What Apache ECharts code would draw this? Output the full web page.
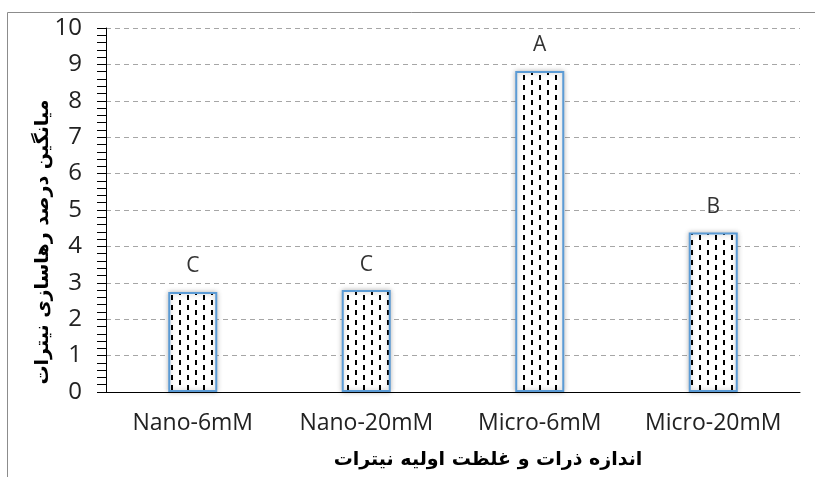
<!DOCTYPE html>
<html><head><meta charset="utf-8">
<script src="https://cdn.jsdelivr.net/npm/echarts@6/dist/echarts.min.js"></script>
<style>html,body{margin:0;padding:0;background:#fff}#c{width:815px;height:477px}</style>
</head><body><div id="c"></div>
<script>
const categories = ['Nano-6mM', 'Nano-20mM', 'Micro-6mM', 'Micro-20mM'];
const values = [2.75, 2.80, 8.82, 4.38];
const letters = ['C', 'C', 'A', 'B'];
const yTicks = [0, 1, 2, 3, 4, 5, 6, 7, 8, 9, 10];
const xTitle = 'اندازه ذرات و غلظت اولیه نیترات';
const yTitle = 'میانگین درصد رهاسازی نیترات';

function makePattern() {
  const c = document.createElement('canvas');
  c.width = 16; c.height = 10;
  const g = c.getContext('2d');
  g.fillStyle = '#fff'; g.fillRect(0, 0, 16, 10);
  g.fillStyle = '#000';
  g.fillRect(3, 0, 2, 5);
  g.fillRect(11, 5, 2, 5);
  return c;
}
const pattern = makePattern();
const titleFont = {fill: '#000', fontFamily: 'DejaVu Sans', fontWeight: 'bold', fontSize: 19};

const chart = echarts.init(document.getElementById('c'), null, {renderer: 'canvas'});
chart.setOption({
  animation: false,
  backgroundColor: '#fff',
  graphic: [
    {type: 'rect', shape: {x: 7.5, y: 12.5, width: 900, height: 600},
     style: {fill: 'none', stroke: '#8c8c8c', lineWidth: 1}, silent: true, z: -1},
    {type: 'text', x: 488, y: 460,
     style: Object.assign({text: xTitle, align: 'center', verticalAlign: 'middle'}, titleFont)},
    {type: 'text', x: 43, y: 242, rotation: Math.PI / 2,
     style: Object.assign({text: yTitle, align: 'center', verticalAlign: 'middle'}, titleFont)}
  ],
  grid: {left: 106, right: 15, top: 28, bottom: 85},
  xAxis: {
    type: 'category', data: categories,
    axisLine: {lineStyle: {color: '#000', width: 1}},
    axisTick: {show: false},
    axisLabel: {color: '#222', fontFamily: 'Open Sans', fontSize: 23, margin: 20,
                interval: 0, hideOverlap: false}
  },
  yAxis: {
    type: 'value', min: yTicks[0], max: yTicks[yTicks.length - 1], interval: 1,
    axisLine: {show: true, lineStyle: {color: '#000', width: 1}},
    axisTick: {show: true, length: 9, lineStyle: {color: '#000'}},
    minorTick: {show: true, splitNumber: 5, length: 9, lineStyle: {color: '#000'}},
    axisLabel: {color: '#222', fontFamily: 'Open Sans', fontSize: 24, margin: 24},
    splitLine: {show: true, lineStyle: {color: '#a6a6a6', type: [5, 4], width: 1}}
  },
  series: [{
    type: 'bar',
    data: values.map((v, i) => ({value: v, label: {formatter: letters[i]}})),
    barWidth: 49,
    itemStyle: {
      color: {image: pattern, repeat: 'repeat'},
      borderColor: '#5b9bd5', borderWidth: 2,
      shadowBlur: 5, shadowColor: 'rgba(0,0,0,0.25)'
    },
    label: {show: true, position: 'top', distance: 15, color: '#333', fontFamily: 'Open Sans', fontSize: 21}
  }]
});
</script></body></html>
